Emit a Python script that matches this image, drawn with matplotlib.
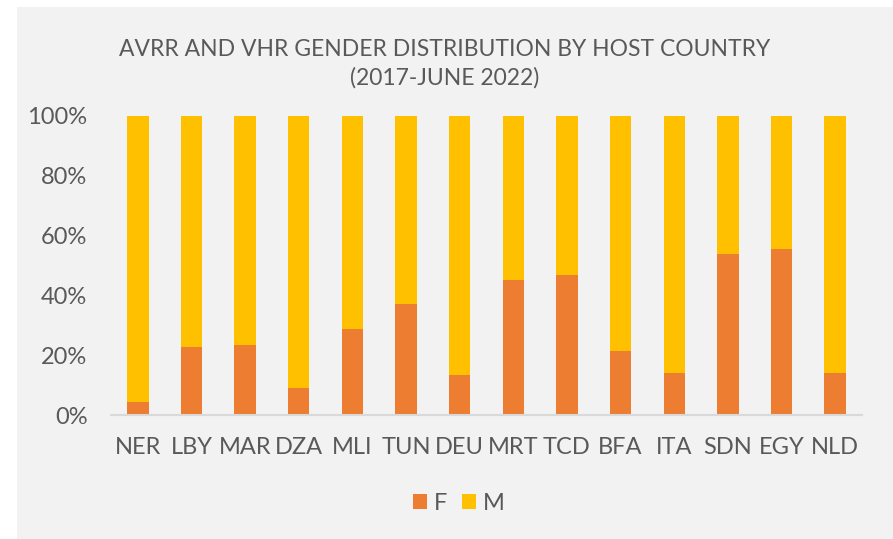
import matplotlib.pyplot as plt
from matplotlib.patches import Rectangle
from matplotlib.ticker import PercentFormatter

# data (share of female returnees, male is the rest)
countries = ["NER", "LBY", "MAR", "DZA", "MLI", "TUN", "DEU", "MRT", "TCD", "BFA", "ITA", "SDN", "EGY", "NLD"]
female = [4.5, 22.8, 23.5, 8.9, 28.8, 37.2, 13.3, 45.0, 46.8, 21.5, 14.1, 53.8, 55.5, 14.1]
male = [100 - f for f in female]

orange = "#ED7D31"
yellow = "#FFC000"
txt = "#595959"

plt.rcParams["font.family"] = ["Lato", "DejaVu Sans"]

fig = plt.figure(figsize=(8.93, 5.39), dpi=100)
fig.patch.set_facecolor("white")

# grey chart panel (leaves a white strip top and left)
fig.patches.append(Rectangle((17 / 893, 0), 1, 1 - 7 / 539, transform=fig.transFigure,
                             facecolor="#F2F2F2", edgecolor="none", zorder=-1))

ax = fig.add_axes([111 / 893, 124 / 539, 751 / 893, 299 / 539])
ax.set_facecolor("none")

x = range(len(countries))
ax.bar(x, female, width=0.4, color=orange, label="F", zorder=3)
ax.bar(x, male, width=0.4, bottom=female, color=yellow, label="M", zorder=3)

ax.set_xlim(-0.5, len(countries) - 0.5)
ax.set_ylim(0, 100)
ax.set_yticks([0, 20, 40, 60, 80, 100])
ax.yaxis.set_major_formatter(PercentFormatter(decimals=0))
ax.set_xticks(list(x))
ax.set_xticklabels(countries)

ax.tick_params(axis="y", length=0, pad=17, labelsize=17, labelcolor=txt)
ax.tick_params(axis="x", length=0, pad=16, labelsize=17, labelcolor=txt)

for s in ["top", "right", "left"]:
    ax.spines[s].set_visible(False)
ax.spines["bottom"].set_color("#D9D9D9")
ax.spines["bottom"].set_linewidth(1.5)
ax.spines["bottom"].set_zorder(4)

fig.text(445 / 893, 1 - 50 / 539, "AVRR AND VHR GENDER DISTRIBUTION BY HOST COUNTRY",
         ha="center", va="center", fontsize=16.5, color=txt)
fig.text(445 / 893, 1 - 78 / 539, "(2017-JUNE 2022)",
         ha="center", va="center", fontsize=16.5, color=txt)

fig.legend(loc="center", bbox_to_anchor=(459 / 893, 1 - 503 / 539), ncol=2, frameon=False,
           fontsize=17, labelcolor=txt, handlelength=0.6, handleheight=0.6,
           handletextpad=0.3, columnspacing=0.6)

fig.savefig("out.png", dpi=100)
